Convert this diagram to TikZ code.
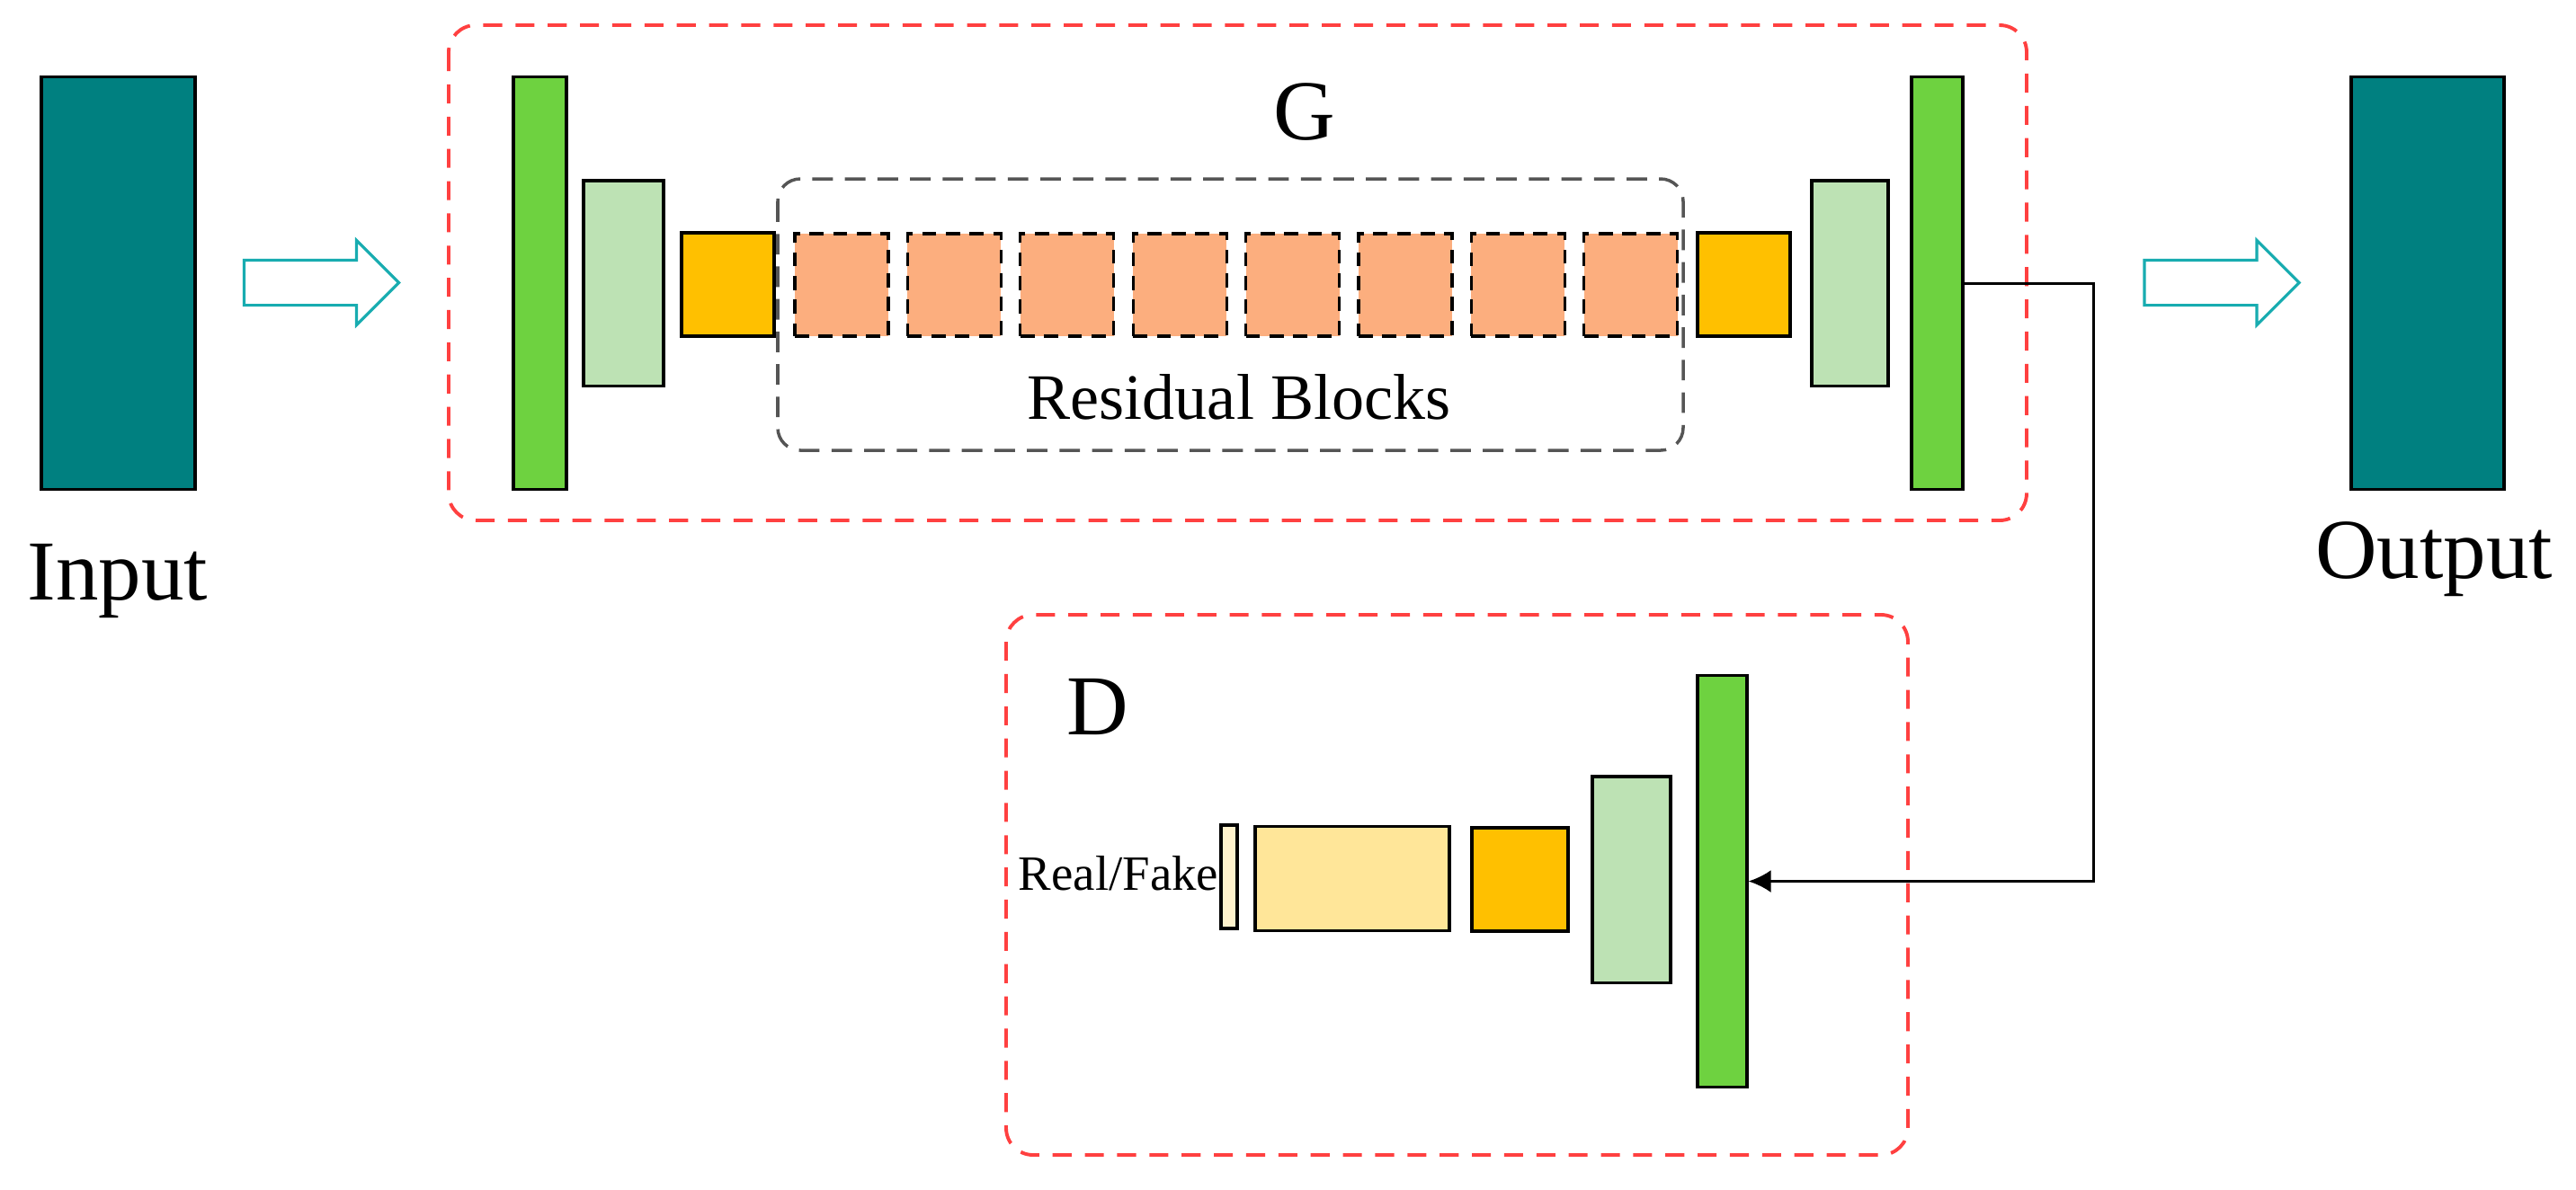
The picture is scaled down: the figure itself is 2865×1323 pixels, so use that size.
\documentclass[tikz,border=0pt]{standalone}
\usepackage{fontspec}
\setmainfont{Liberation Serif}
\usetikzlibrary{shapes.arrows,arrows.meta}
\definecolor{dataTeal}{RGB}{0,128,128}
\definecolor{convGreen}{RGB}{110,210,64}
\definecolor{paleGreen}{RGB}{189,226,180}
\definecolor{poolGold}{RGB}{255,192,0}
\definecolor{resSalmon}{RGB}{252,174,126}
\definecolor{paleYellow}{RGB}{255,230,153}
\definecolor{creamBar}{RGB}{255,242,204}
\definecolor{frameRed}{RGB}{255,64,64}
\definecolor{frameGray}{RGB}{85,85,85}
\definecolor{arrowCyan}{RGB}{24,172,176}
\begin{document}
\begin{tikzpicture}[x=0.01cm,y=-0.01cm,
        blk/.style={draw=black,line width=0.9pt,inner sep=0pt},
        resblk/.style={blk,fill=resSalmon,dash pattern=on 4.5pt off 3pt,minimum width=1.04cm,minimum height=1.14cm},
        redframe/.style={draw=frameRed,line width=1.1pt,dash pattern=on 6pt off 4.2pt,rounded corners=0.3cm},
        grayframe/.style={draw=frameGray,line width=1pt,dash pattern=on 6.5pt off 3.8pt,rounded corners=0.25cm},
        hollow/.style={single arrow,draw=arrowCyan,fill=white,line width=0.9pt,inner xsep=0pt,inner ysep=0.235cm,
            minimum width=0pt,minimum height=1.72cm,single arrow head extend=0.22cm},
        big/.style={font=\fontsize{27}{32}\selectfont,inner sep=0pt},
        link/.style={line width=0.85pt,-{Latex[length=0.25cm,width=0.25cm]}}]
    \useasboundingbox (0,0) rectangle (2865,1323);
    % frames
    \draw[redframe] (499,28) rectangle (2254,579);
    \draw[grayframe] (865,199) rectangle (1872,501);
    \draw[redframe] (1119,684) rectangle (2122,1285);
    % input and output
    \node[blk,fill=dataTeal,minimum width=1.71cm,minimum height=4.58cm] (inp) at (131.5,315) {};
    \node[blk,fill=dataTeal,minimum width=1.70cm,minimum height=4.58cm] (outp) at (2700,315) {};
    \node[big,anchor=base] (inplbl) at (131,667) {Input};
    \node[big,anchor=base] (outplbl) at (2707,643) {Output};
    \node[hollow] (arrin) at (345,314.5) {};
    \node[hollow] (arrout) at (2458.5,314.5) {};
    % generator
    \node[big,anchor=base] (glbl) at (1451,155) {G};
    \node[blk,fill=convGreen,minimum width=0.59cm,minimum height=4.58cm] (gin) at (600.5,315) {};
    \node[blk,fill=paleGreen,minimum width=0.89cm,minimum height=2.28cm] (gpool1) at (693.5,315) {};
    \node[blk,fill=poolGold,minimum width=1.03cm,minimum height=1.15cm] (gdown) at (809.5,316.5) {};
    \foreach \i in {0,...,7}
        \node[resblk] (res\i) at ({936+125.4*\i},317) {};
    \node[blk,fill=poolGold,minimum width=1.03cm,minimum height=1.15cm] (gup) at (1939.5,316.5) {};
    \node[blk,fill=paleGreen,minimum width=0.85cm,minimum height=2.28cm] (gpool2) at (2057.5,315) {};
    \node[blk,fill=convGreen,minimum width=0.57cm,minimum height=4.58cm] (gout) at (2154.5,315) {};
    \node[anchor=base,inner sep=0pt,font=\fontsize{20.5}{24}\selectfont] (reslbl) at (1378,466) {Residual Blocks};
    % discriminator
    \node[big,anchor=base] (dlbl) at (1221,817) {D};
    \node[blk,fill=convGreen,minimum width=0.55cm,minimum height=4.57cm] (din) at (1915.5,980.5) {};
    \node[blk,fill=paleGreen,minimum width=0.87cm,minimum height=2.29cm] (dpool) at (1814.5,978.5) {};
    \node[blk,fill=poolGold,minimum width=1.07cm,minimum height=1.15cm] (dconv) at (1690.5,978.5) {};
    \node[blk,fill=paleYellow,minimum width=2.16cm,minimum height=1.16cm] (dfc) at (1504,977.5) {};
    \node[blk,fill=creamBar,minimum width=0.18cm,minimum height=1.15cm] (dout) at (1367,975.5) {};
    \node[anchor=base east,inner sep=0pt,font=\fontsize{15.6}{18}\selectfont] (rflbl) at (1356,990) {Real/Fake};
    % generated image to D
    \coordinate (bend) at (2328,315);
    \draw[link] (gout.east) -- (bend) |- (din.east);
\end{tikzpicture}
\end{document}
